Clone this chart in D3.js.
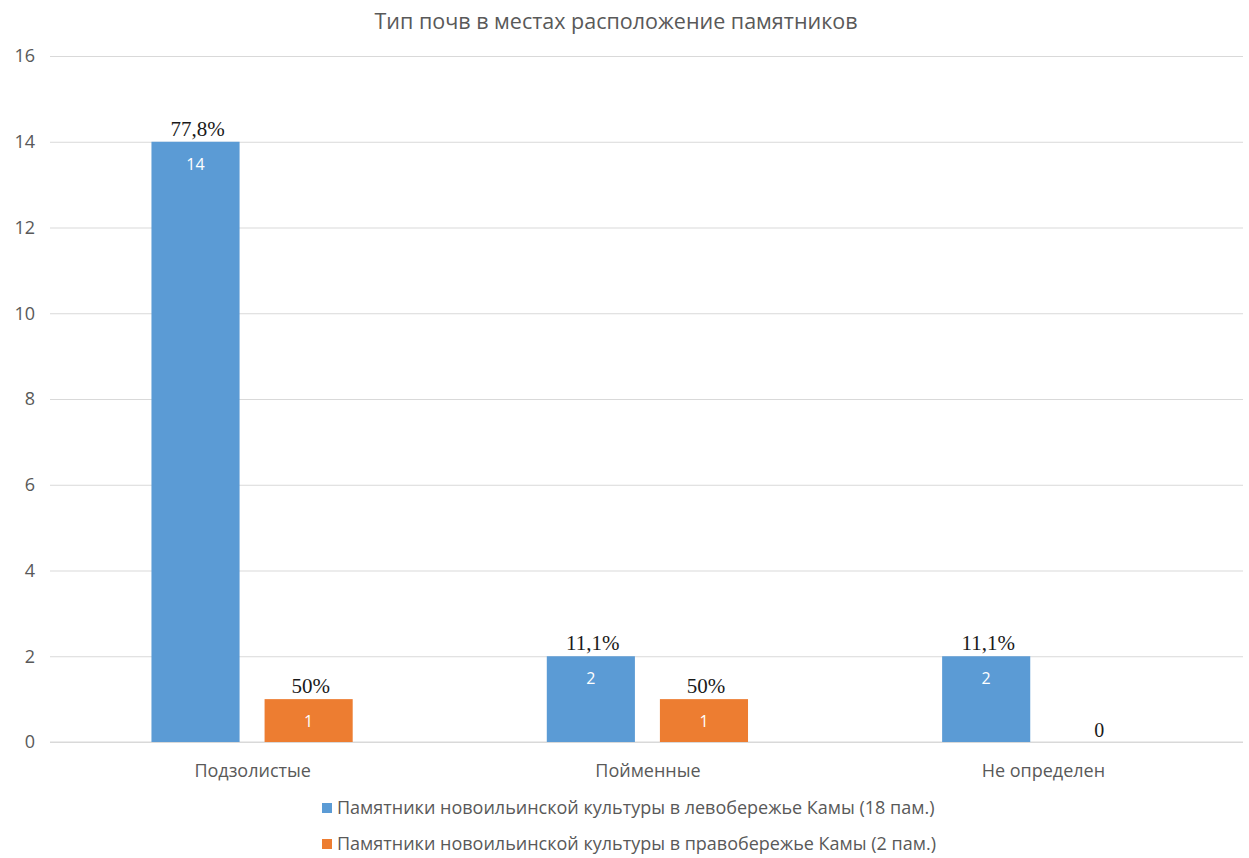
<!DOCTYPE html>
<html>
<head>
<meta charset="utf-8">
<script src="https://cdn.jsdelivr.net/npm/d3@7"></script>
<style>
  html, body { margin: 0; padding: 0; background: #fff; }
  svg { display: block; }
</style>
</head>
<body>
<svg id="chart" width="1249" height="858"></svg>
<script>
const title = "Тип почв в местах расположение памятников";
const categories = ["Подзолистые", "Пойменные", "Не определен"];
const seriesNames = [
  "Памятники новоильинской культуры в левобережье Камы (18 пам.)",
  "Памятники новоильинской культуры в правобережье Камы (2 пам.)"
];
const leftBank = [14, 2, 2];
const rightBank = [1, 1, 0];
const leftPct = ["77,8%", "11,1%", "11,1%"];
const rightPct = ["50%", "50%", ""];
const yTicks = [0, 2, 4, 6, 8, 10, 12, 14, 16];
const colors = ["#5b9bd5", "#ed7d31"];

const svg = d3.select("#chart");
const sans = "'Open Sans', 'Noto Sans', sans-serif";
const serif = "'Liberation Serif', 'DejaVu Serif', serif";

const x0 = d3.scaleBand().domain(categories).range([55, 1241]).padding(0);
const bw = x0.bandwidth();
const x1 = d3.scaleBand().domain([0, 1]).range([bw * 0.244, bw * 0.753]).paddingInner(0.221).paddingOuter(0);
const y = d3.scaleLinear().domain([0, 16]).range([742, 56]);

// Title
svg.append("text").attr("x", 616).attr("y", 29).attr("text-anchor", "middle")
  .attr("font-family", sans).attr("font-size", 21.5).attr("fill", "#595959").text(title);

// Gridlines
const yAxis = d3.axisLeft(y).tickValues(yTicks).tickSize(-(1243 - 50)).tickPadding(15);
const gy = svg.append("g").attr("transform", "translate(50,0)").call(yAxis);
gy.select(".domain").remove();
gy.selectAll(".tick line").attr("stroke", "#d9d9d9").attr("stroke-width", 1);
gy.selectAll(".tick text").attr("font-family", sans).attr("font-size", 18).attr("fill", "#595959");

// Baseline
svg.append("line").attr("x1", 50).attr("x2", 1243).attr("y1", y(0)).attr("y2", y(0))
  .attr("stroke", "#d9d9d9");

// X axis labels
const xAxis = d3.axisBottom(x0).tickSize(0).tickPadding(22);
const gx = svg.append("g").attr("transform", `translate(0,${y(0)})`).call(xAxis);
gx.select(".domain").remove();
gx.selectAll(".tick text").attr("font-family", sans).attr("font-size", 18).attr("fill", "#595959");

const series = [leftBank, rightBank];
const pcts = [leftPct, rightPct];

series.forEach((vals, si) => {
  const g = svg.append("g");
  categories.forEach((c, ci) => {
    const v = vals[ci];
    const bx = x0(c) + x1(si);
    const w = x1.bandwidth();
    if (v > 0) {
      g.append("rect").attr("x", bx).attr("y", y(v)).attr("width", w).attr("height", y(0) - y(v))
        .attr("fill", colors[si]);
      g.append("text").attr("x", bx + w / 2).attr("y", y(v) + 28).attr("text-anchor", "middle")
        .attr("font-family", sans).attr("font-size", 16).attr("fill", "#ffffff").text(v);
      g.append("text").attr("x", bx + w / 2 + 2).attr("y", y(v) - 6).attr("text-anchor", "middle")
        .attr("font-family", serif).attr("font-size", 21).attr("fill", "#1a1a1a").text(pcts[si][ci]);
    } else {
      g.append("text").attr("x", bx + w / 2).attr("y", y(0) - 5).attr("text-anchor", "middle")
        .attr("font-family", serif).attr("font-size", 20).attr("fill", "#1a1a1a").text(v);
    }
  });
});

// Legend
const legend = svg.append("g");
seriesNames.forEach((name, i) => {
  const ly = 808 + i * 36;
  legend.append("rect").attr("x", 322).attr("y", ly - 5).attr("width", 10).attr("height", 10).attr("fill", colors[i]);
  legend.append("text").attr("x", 337).attr("y", ly + 6).attr("font-family", sans).attr("font-size", 18)
    .attr("fill", "#595959").text(name);
});
</script>
</body>
</html>
